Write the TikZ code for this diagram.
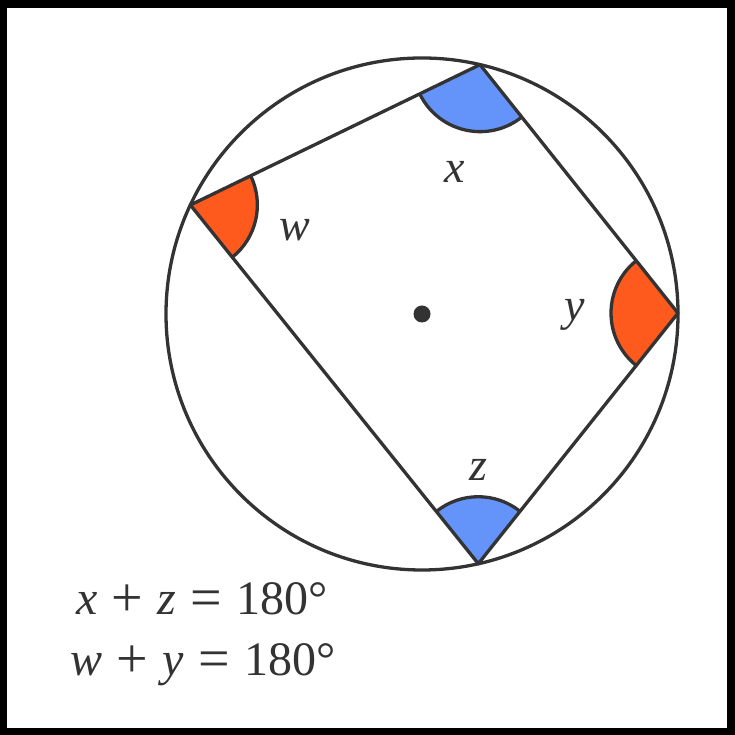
\documentclass[tikz,border=0pt]{standalone}
\usepackage{fontspec}
\setmainfont{Liberation Serif}
\usetikzlibrary{angles,calc}
\definecolor{lineC}{RGB}{51,51,51}
\definecolor{blueF}{RGB}{100,148,250}
\definecolor{orangeF}{RGB}{255,90,30}
\tikzset{
  edge/.style={draw=lineC, line width=3.3pt, line join=round},
  sectorB/.style={draw=lineC, fill=blueF, line width=3.3pt, angle radius=67pt},
  sectorO/.style={draw=lineC, fill=orangeF, line width=3.3pt, angle radius=67pt},
  lab/.style={inner sep=0pt, text=lineC, font=\fontsize{46}{54}\selectfont\itshape},
  eq/.style={inner sep=0pt, text=lineC, anchor=base west, font=\fontsize{48}{56}\selectfont}
}
\newcommand{\eqsp}{\hspace{0.3em}}
\newcommand{\bigop}[1]{\raisebox{-2pt}{\fontsize{56}{60}\selectfont #1}}
\begin{document}
\begin{tikzpicture}[x=1pt,y=1pt]
  \useasboundingbox (0,0) rectangle (735,735);
  \fill[black] (0,0) rectangle (735,735);
  \fill[white] (7,7) rectangle (727,727);
  \coordinate (O) at (422,421);
  \coordinate (T) at ($(O)+(76.9:256pt)$);
  \coordinate (L) at ($(O)+(154.8:256pt)$);
  \coordinate (R) at ($(O)+(0.2:256pt)$);
  \coordinate (B) at ($(O)+(-77.3:256pt)$);
  \pic[sectorB] {angle = L--T--R};
  \pic[sectorB] {angle = R--B--L};
  \pic[sectorO] {angle = B--L--T};
  \pic[sectorO] {angle = T--R--B};
  \draw[edge] (O) circle[radius=256pt];
  \draw[edge] (T) -- (R) -- (B) -- (L) -- cycle;
  \fill[lineC] (O) circle[radius=8.5pt];
  \node[lab] (lx) at (455,563) {x};
  \node[lab] (lw) at (295,505) {w};
  \node[lab] (ly) at (575,420) {y};
  \node[lab] (lz) at (478,265) {z};
  \node[eq] (e1) at (76,120) {\textit{x}\eqsp\bigop{+}\eqsp\textit{z}\eqsp\bigop{=}\eqsp180°};
  \node[eq] (e2) at (70,59) {\textit{w}\eqsp\bigop{+}\eqsp\textit{y}\eqsp\bigop{=}\eqsp180°};
\end{tikzpicture}
\end{document}
